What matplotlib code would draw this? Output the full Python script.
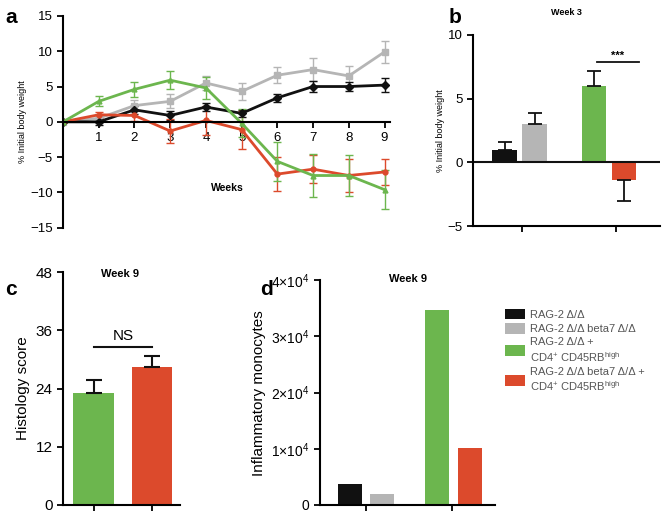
import numpy as np
import matplotlib.pyplot as plt

plt.rcParams['font.family'] = ['Liberation Sans', 'DejaVu Sans']
plt.rcParams['mathtext.fontset'] = 'custom'
plt.rcParams['mathtext.rm'] = 'Liberation Sans'

BLACK = '#111111'
GRAY = '#b5b5b5'
GREEN = '#6cb64e'
RED = '#dc4a2c'

# Panel a: % initial body weight over weeks
weeks = [0, 1, 2, 3, 4, 5, 6, 7, 8, 9]
rag_mean = [0, 0.0, 1.7, 0.9, 2.1, 1.2, 3.4, 5.0, 5.0, 5.2]
rag_err = [0, 0.4, 0.6, 0.6, 0.6, 0.5, 0.6, 0.8, 0.7, 1.0]
b7_mean = [0, 0.5, 2.3, 2.9, 5.5, 4.3, 6.6, 7.4, 6.5, 9.9]
b7_err = [0, 0.5, 0.8, 1.0, 1.0, 1.2, 1.1, 1.6, 1.4, 1.6]
tc_mean = [0, 2.9, 4.6, 5.9, 4.8, -0.2, -5.6, -7.6, -7.6, -9.6]
tc_err = [0, 0.7, 1.1, 1.3, 1.5, 2.0, 2.8, 3.0, 2.9, 2.8]
b7tc_mean = [0, 1.0, 0.9, -1.3, 0.2, -1.1, -7.4, -6.7, -7.6, -7.1]
b7tc_err = [0, 0.4, 0.8, 1.7, 2.0, 2.7, 2.4, 2.0, 2.3, 1.8]

# Panel b: week 3
wk3_mean = [1.0, 3.0, 6.0, -1.4]
wk3_err = [0.6, 0.9, 1.2, 1.6]

# Panel c: histology score week 9
hist_mean = [23.0, 28.5]
hist_err = [2.8, 2.2]

# Panel d: inflammatory monocytes week 9
mono = [3800, 2000, 34700, 10100]

labels = ['RAG-2 Δ/Δ', 'RAG-2 Δ/Δ beta7 Δ/Δ',
          'RAG-2 Δ/Δ +\nCD4$^{+}$ CD45RB$^{\\mathrm{high}}$',
          'RAG-2 Δ/Δ beta7 Δ/Δ +\nCD4$^{+}$ CD45RB$^{\\mathrm{high}}$']
colors = [BLACK, GRAY, GREEN, RED]

fig = plt.figure(figsize=(6.67, 5.13), dpi=100)


def style(ax):
    for s in ['top', 'right']:
        ax.spines[s].set_visible(False)
    for s in ['left', 'bottom']:
        ax.spines[s].set_linewidth(1.5)
    ax.tick_params(width=1.3, length=4)


# ---- a
ax = fig.add_axes([0.0945, 0.556, 0.49, 0.413])
style(ax)
series = [(rag_mean, rag_err, BLACK, 'D', 4.5),
          (b7_mean, b7_err, GRAY, 's', 4.5),
          (tc_mean, tc_err, GREEN, '^', 3.5),
          (b7tc_mean, b7tc_err, RED, 'o', 3.5)]
for m, e, c, mk, ms in [series[1], series[0], series[3], series[2]]:
    ax.errorbar(weeks, m, yerr=e, color=c, marker=mk, ms=ms, lw=2,
                capsize=3, elinewidth=1, capthick=1)
ax.set_ylim(-15, 15)
ax.set_xlim(0, 9.15)
ax.set_yticks([-15, -10, -5, 0, 5, 10, 15])
ax.set_yticklabels(['\u221215', '\u221210', '\u22125', '0', '5', '10', '15'])
ax.set_xticks(range(1, 10))
ax.spines['bottom'].set_position(('data', 0))
ax.tick_params(labelsize=9.5)
ax.set_ylabel('% Initial body weight', fontsize=6.5, labelpad=2)
ax.text(4.6, -9.3, 'Weeks', fontsize=7.5, fontweight='bold', ha='center',
        va='center')

# ---- b
ax = fig.add_axes([0.709, 0.559, 0.28, 0.373])
style(ax)
xb = [0, 1, 3, 4]
yerr_b = [[0 if v >= 0 else e for v, e in zip(wk3_mean, wk3_err)],
          [e if v >= 0 else 0 for v, e in zip(wk3_mean, wk3_err)]]
ax.bar(xb, wk3_mean, width=0.83, color=colors)
ax.errorbar(xb, wk3_mean, yerr=yerr_b, fmt='none', ecolor=BLACK,
            capsize=5, elinewidth=1.3, capthick=1.3)
ax.axhline(0, color=BLACK, lw=1.5)
ax.set_ylim(-5, 10)
ax.set_xlim(-1.07, 5.2)
ax.set_yticks([-5, 0, 5, 10])
ax.set_yticklabels(['\u22125', '0', '5', '10'])
ax.set_xticks([0.57, 3.73])
ax.set_xticklabels(['', ''])
ax.tick_params(labelsize=9.5)
ax.set_ylabel('% Initial body weight', fontsize=6.5, labelpad=2)
ax.plot([3.1, 4.5], [7.9, 7.9], color=BLACK, lw=1.3)
ax.text(3.8, 8.0, '***', fontsize=8, fontweight='bold', ha='center', va='bottom')
ax.set_title('Week 3', fontsize=6.5, fontweight='bold', pad=14)

# ---- c
ax = fig.add_axes([0.0945, 0.0156, 0.175, 0.454])
style(ax)
xc = [0, 1]
ax.bar(xc, hist_mean, width=0.7, color=[GREEN, RED])
ax.errorbar(xc, hist_mean, yerr=[[0, 0], hist_err], fmt='none', ecolor=BLACK,
            capsize=6, elinewidth=1.5, capthick=1.5)
ax.set_ylim(0, 48)
ax.set_xlim(-0.53, 1.48)
ax.set_yticks([0, 12, 24, 36, 48])
ax.set_xticks(xc)
ax.set_xticklabels(['', ''])
ax.tick_params(labelsize=11)
ax.set_ylabel('Histology score', fontsize=11, labelpad=4)
ax.plot([0, 1], [32.5, 32.5], color=BLACK, lw=1.5)
ax.text(0.5, 33.3, 'NS', fontsize=11, ha='center', va='bottom')
ax.text(0.45, 47.6, 'Week 9', fontsize=8, fontweight='bold', ha='center',
        va='center')

# ---- d
ax = fig.add_axes([0.48, 0.0156, 0.262, 0.438])
style(ax)
xd = [0, 1, 2.72, 3.75]
bars = ax.bar(xd, mono, width=0.75, color=colors)
ax.set_ylim(0, 40000)
ax.set_xlim(-0.94, 4.53)
ax.set_yticks([0, 10000, 20000, 30000, 40000])
ax.set_yticklabels(['0', '1×10$^4$', '2×10$^4$', '3×10$^4$', '4×10$^4$'])
ax.set_xticks([0.5, 3.2])
ax.set_xticklabels(['', ''])
ax.tick_params(labelsize=10)
ax.set_ylabel('Inflammatory monocytes', fontsize=11, labelpad=4)
ax.text(1.8, 40300, 'Week 9', fontsize=8, fontweight='bold', ha='center',
        va='center')
leg = fig.legend(bars, labels, loc='upper left', bbox_to_anchor=(0.742, 0.418),
                 frameon=False, fontsize=8, handlelength=1.8, handleheight=1.1,
                 handletextpad=0.45, labelspacing=0.3)
for t in leg.get_texts():
    t.set_color('#555555')

# panel letters
for x, y, s in [(0.008, 0.965, 'a'), (0.672, 0.965, 'b'),
                (0.008, 0.435, 'c'), (0.39, 0.435, 'd')]:
    fig.text(x, y, s, fontsize=15, fontweight='bold', va='center')

fig.savefig('out.png', dpi=100)
